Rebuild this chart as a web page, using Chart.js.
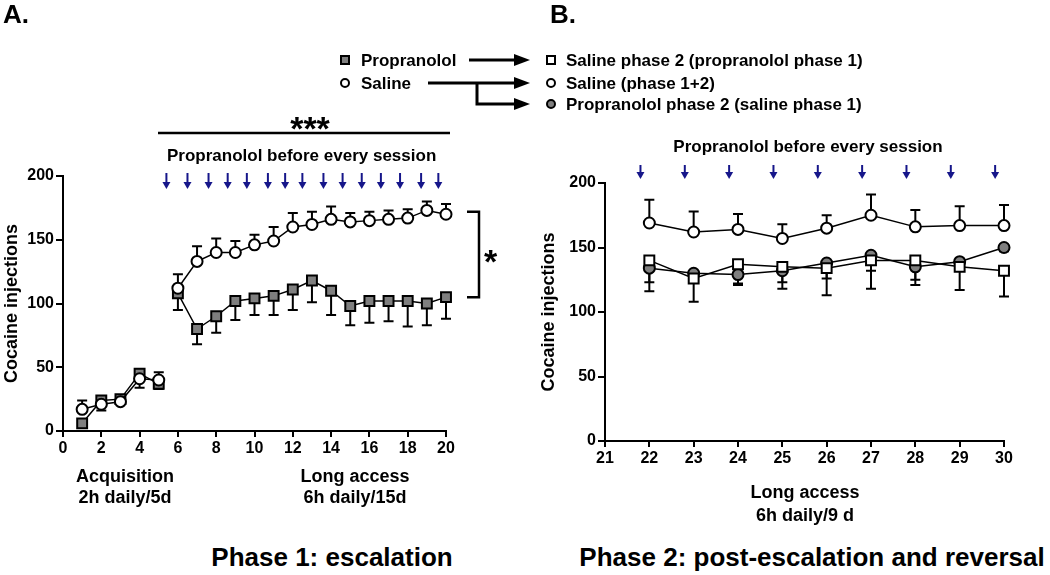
<!DOCTYPE html>
<html>
<head>
<meta charset="utf-8">
<script src="https://cdn.jsdelivr.net/npm/chart.js@4.4.0/dist/chart.umd.min.js"></script>
<style>
  html, body { margin: 0; padding: 0; background: #fff; }
  #fig { position: relative; width: 1050px; height: 575px; overflow: hidden;
         font-family: "Liberation Sans", Arial, Helvetica, sans-serif; font-weight: bold; color: #000; }
  canvas, svg { position: absolute; }
  .lbl { position: absolute; white-space: nowrap; line-height: 1; transform: translateY(-50%); }
  .mid { transform: translate(-50%, -50%); }
  .s17 { font-size: 17px; }
  .s18 { font-size: 18px; }
  .big { font-size: 26px; }
  .star { position: absolute; font-size: 34px; line-height: 1; white-space: nowrap; }
  .mk { position: absolute; box-sizing: border-box; width: 10px; height: 10px; border: 2px solid #000;
        background: #fff; transform: translate(-50%, -50%); }
  .mk.round { border-radius: 50%; }
  .mk.grey { background: #7f7f7f; }
</style>
</head>
<body>
<div id="fig">
  <canvas id="chartA" width="545" height="430" style="left:0;top:40px"></canvas>
  <canvas id="chartB" width="520" height="360" style="left:530px;top:120px"></canvas>

  <svg width="1050" height="140" style="left:0;top:0">
    <g stroke="#000" stroke-width="3" fill="none">
      <line x1="469" y1="60" x2="518" y2="60"/>
      <line x1="428" y1="83" x2="518" y2="83"/>
      <polyline points="477,83 477,104 518,104"/>
      <line x1="158" y1="133" x2="450" y2="133" stroke-width="2.5"/>
    </g>
    <g fill="#000">
      <polygon points="514,54 530,60 514,66"/>
      <polygon points="514,77 530,83 514,89"/>
      <polygon points="514,98 530,104 514,110"/>
    </g>
  </svg>

  <div class="lbl" style="left:3px;top:14px;font-size:26px">A.</div>
  <div class="lbl" style="left:550px;top:14px;font-size:26px">B.</div>

  <div class="mk grey" style="left:345px;top:60px"></div>
  <div class="lbl s17" style="left:361px;top:60px">Propranolol</div>
  <div class="mk round" style="left:345px;top:83px"></div>
  <div class="lbl s17" style="left:361px;top:83px">Saline</div>

  <div class="mk" style="left:551px;top:60px"></div>
  <div class="lbl s17" style="left:566px;top:60px">Saline phase 2 (propranolol phase 1)</div>
  <div class="mk round" style="left:551px;top:83px"></div>
  <div class="lbl s17" style="left:566px;top:83px">Saline (phase 1+2)</div>
  <div class="mk round grey" style="left:551px;top:104px"></div>
  <div class="lbl s17" style="left:566px;top:104px">Propranolol phase 2 (saline phase 1)</div>

  <div class="star" style="left:310px;top:111px;transform:translateX(-50%)">***</div>
  <div class="star" style="left:484px;top:244px">*</div>
  <div class="lbl s17" style="left:167px;top:155px">Propranolol before every session</div>
  <div class="lbl s17 mid" style="left:808px;top:146px">Propranolol before every session</div>

  <div class="lbl s18 mid" style="left:125px;top:476px">Acquisition</div>
  <div class="lbl s18 mid" style="left:125px;top:497px">2h daily/5d</div>
  <div class="lbl s18 mid" style="left:355px;top:476px">Long access</div>
  <div class="lbl s18 mid" style="left:355px;top:497px">6h daily/15d</div>
  <div class="lbl s18 mid" style="left:805px;top:492px">Long access</div>
  <div class="lbl s18 mid" style="left:805px;top:515px">6h daily/9 d</div>

  <div class="lbl big mid" style="left:332px;top:557px">Phase 1: escalation</div>
  <div class="lbl big mid" style="left:812px;top:557px">Phase 2: post-escalation and reversal</div>
</div>

<script>
// Phase 1 (panel A): acquisition sessions 1-5, long access sessions 6-20
const acqSessions = [1, 2, 3, 4, 5];
const longSessions = [6, 7, 8, 9, 10, 11, 12, 13, 14, 15, 16, 17, 18, 19, 20];

const propranololAcq = [6, 24, 25, 45, 37];
const propranololAcqErr = [2, 8, 3, 11, 4];
const salineAcq = [17, 21, 23, 41, 40];
const salineAcqErr = [7, 4, 2, 5, 6];

const propranololLong = [108, 80, 90, 102, 104, 106, 111, 118, 110, 98, 102, 102, 102, 100, 105];
const propranololLongErr = [13, 12, 13, 15, 13, 15, 16, 17, 19, 15, 17, 16, 20, 17, 17];
const salineLong = [112, 133, 140, 140, 146, 149, 160, 162, 166, 164, 165, 166, 167, 173, 170];
const salineLongErr = [11, 12, 11, 9, 8, 11, 11, 10, 10, 7, 7, 7, 7, 7, 8];

// injections (blue arrows) and the * bracket, in data units
const arrowsA = [5.4, 6.5, 7.6, 8.6, 9.6, 10.7, 11.6, 12.5, 13.6, 14.6, 15.6, 16.6, 17.6, 18.7, 19.6];
const bracketA = [172, 105];

// Phase 2 (panel B): sessions 22-30
const sessionsB = [22, 23, 24, 25, 26, 27, 28, 29, 30];
const salineB = [169, 162, 164, 157, 165, 175, 166, 167, 167];
const salineBErr = [18, 16, 12, 11, 10, 16, 13, 15, 16];
const salinePhase2B = [140, 126, 137, 135, 134, 140, 140, 135, 132];
const salinePhase2BErr = [24, 18, 16, 17, 21, 22, 19, 18, 20];
const propranololPhase2B = [134, 130, 129, 132, 138, 144, 135, 139, 150];
const propranololPhase2BErr = [11, 4, 7, 9, 12, 12, 10, 3, 3];
const arrowsB = [21.8, 22.8, 23.8, 24.8, 25.8, 26.8, 27.8, 28.8, 29.8];

const FONT = '"Liberation Sans", Arial, Helvetica, sans-serif';
const GREY = '#7f7f7f';
const NAVY = '#16168a';

Chart.defaults.font.family = FONT;
Chart.defaults.font.weight = 'bold';
Chart.defaults.color = '#000';

function pts(xs, ys) {
    return xs.map((x, i) => ({ x: x, y: ys[i] }));
}

/**
 * Series helper: dir = 1 draws SEM bar up, -1 down
 */
function series(xs, ys, errs, dir, style, fill, radius) {
    return {
        data: pts(xs, ys),
        errors: errs,
        errDir: dir,
        borderColor: '#000',
        borderWidth: 1.5,
        pointStyle: style,
        pointRadius: radius,
        pointBackgroundColor: fill,
        pointBorderColor: '#000',
        pointBorderWidth: 2,
        tension: 0,
        clip: false
    };
}

// SEM bars, under the markers
const errorBars = {
    id: 'errorBars',
    beforeDatasetsDraw(chart) {
        const ctx = chart.ctx;
        const y = chart.scales.y;
        ctx.save();
        ctx.strokeStyle = '#000';
        ctx.lineWidth = 2;
        chart.data.datasets.forEach((ds, di) => {
            const meta = chart.getDatasetMeta(di);
            meta.data.forEach((pt, i) => {
                const v = ds.data[i].y;
                const y1 = y.getPixelForValue(v + ds.errDir * ds.errors[i]);
                ctx.beginPath();
                ctx.moveTo(pt.x, y.getPixelForValue(v));
                ctx.lineTo(pt.x, y1);
                ctx.moveTo(pt.x - 5, y1);
                ctx.lineTo(pt.x + 5, y1);
                ctx.stroke();
            });
        });
        ctx.restore();
    }
};

// blue "propranolol" arrows above the sessions
const doseArrows = {
    id: 'doseArrows',
    afterDraw(chart, args, opts) {
        const { ctx, chartArea } = chart;
        const x = chart.scales.x;
        const y0 = chartArea.top + opts.top;
        const y1 = chartArea.top + opts.bottom;
        ctx.save();
        ctx.strokeStyle = NAVY;
        ctx.fillStyle = NAVY;
        ctx.lineWidth = 2;
        opts.at.forEach(v => {
            const px = x.getPixelForValue(v);
            ctx.beginPath();
            ctx.moveTo(px, y0);
            ctx.lineTo(px, y1 - 6);
            ctx.stroke();
            ctx.beginPath();
            ctx.moveTo(px - 4, y1 - 7);
            ctx.lineTo(px + 4, y1 - 7);
            ctx.lineTo(px, y1);
            ctx.closePath();
            ctx.fill();
        });
        ctx.restore();
    }
};

// significance bracket to the right of panel A
const bracket = {
    id: 'bracket',
    afterDraw(chart, args, opts) {
        if (!opts.values) return;
        const { ctx, chartArea } = chart;
        const y = chart.scales.y;
        const xr = chartArea.right + opts.offset;
        const xl = xr - opts.arm;
        const ya = y.getPixelForValue(opts.values[0]);
        const yb = y.getPixelForValue(opts.values[1]);
        ctx.save();
        ctx.strokeStyle = '#000';
        ctx.lineWidth = 2.5;
        ctx.beginPath();
        ctx.moveTo(xl, ya);
        ctx.lineTo(xr, ya);
        ctx.lineTo(xr, yb);
        ctx.lineTo(xl, yb);
        ctx.stroke();
        ctx.restore();
    }
};

function scales(xMin, xMax, xStep, yWidth, titlePad) {
    const tickFont = { size: 16, weight: 'bold', family: FONT };
    return {
        x: {
            type: 'linear',
            min: xMin,
            max: xMax,
            ticks: { stepSize: xStep, font: tickFont, color: '#000', padding: 2, maxRotation: 0, autoSkip: false },
            grid: { drawOnChartArea: false, drawTicks: true, tickLength: 6, color: '#000', lineWidth: 2 },
            border: { color: '#000', width: 2 },
            afterFit: s => { s.height = 39; }
        },
        y: {
            min: 0,
            max: 200,
            ticks: { stepSize: 50, font: tickFont, color: '#000', padding: 2 },
            grid: { drawOnChartArea: false, drawTicks: true, tickLength: 7, color: '#000', lineWidth: 2 },
            border: { color: '#000', width: 2 },
            title: {
                display: true,
                text: 'Cocaine injections',
                color: '#000',
                font: { size: 18, weight: 'bold', family: FONT },
                padding: { top: titlePad, bottom: 0 }
            },
            afterFit: s => { s.width = yWidth; }
        }
    };
}

// Panel A
new Chart(document.getElementById('chartA'), {
    type: 'line',
    data: {
        datasets: [
            series(acqSessions, salineAcq, salineAcqErr, 1, 'circle', '#fff', 5.5),
            series(longSessions, salineLong, salineLongErr, 1, 'circle', '#fff', 5.5),
            series(acqSessions, propranololAcq, propranololAcqErr, -1, 'rect', GREY, 7),
            series(longSessions, propranololLong, propranololLongErr, -1, 'rect', GREY, 7)
        ]
    },
    options: {
        responsive: false,
        animation: false,
        layout: { padding: { left: 0, top: 136, right: 99, bottom: 0 } },
        scales: scales(0, 20, 2, 63, 1),
        plugins: {
            legend: { display: false },
            tooltip: { enabled: false },
            doseArrows: { at: arrowsA, top: -3, bottom: 13 },
            bracket: { values: bracketA, offset: 33, arm: 12 }
        }
    },
    plugins: [errorBars, doseArrows, bracket]
});

// Panel B
new Chart(document.getElementById('chartB'), {
    type: 'line',
    data: {
        datasets: [
            series(sessionsB, salinePhase2B, salinePhase2BErr, -1, 'rect', '#fff', 7),
            series(sessionsB, salineB, salineBErr, 1, 'circle', '#fff', 5.5),
            series(sessionsB, propranololPhase2B, propranololPhase2BErr, -1, 'circle', GREY, 5.5)
        ]
    },
    options: {
        responsive: false,
        animation: false,
        layout: { padding: { left: 0, top: 63, right: 46, bottom: 0 } },
        scales: scales(21, 30, 1, 75, 8),
        plugins: {
            legend: { display: false },
            tooltip: { enabled: false },
            doseArrows: { at: arrowsB, top: -18, bottom: -4 }
        }
    },
    plugins: [errorBars, doseArrows]
});
</script>
</body>
</html>
